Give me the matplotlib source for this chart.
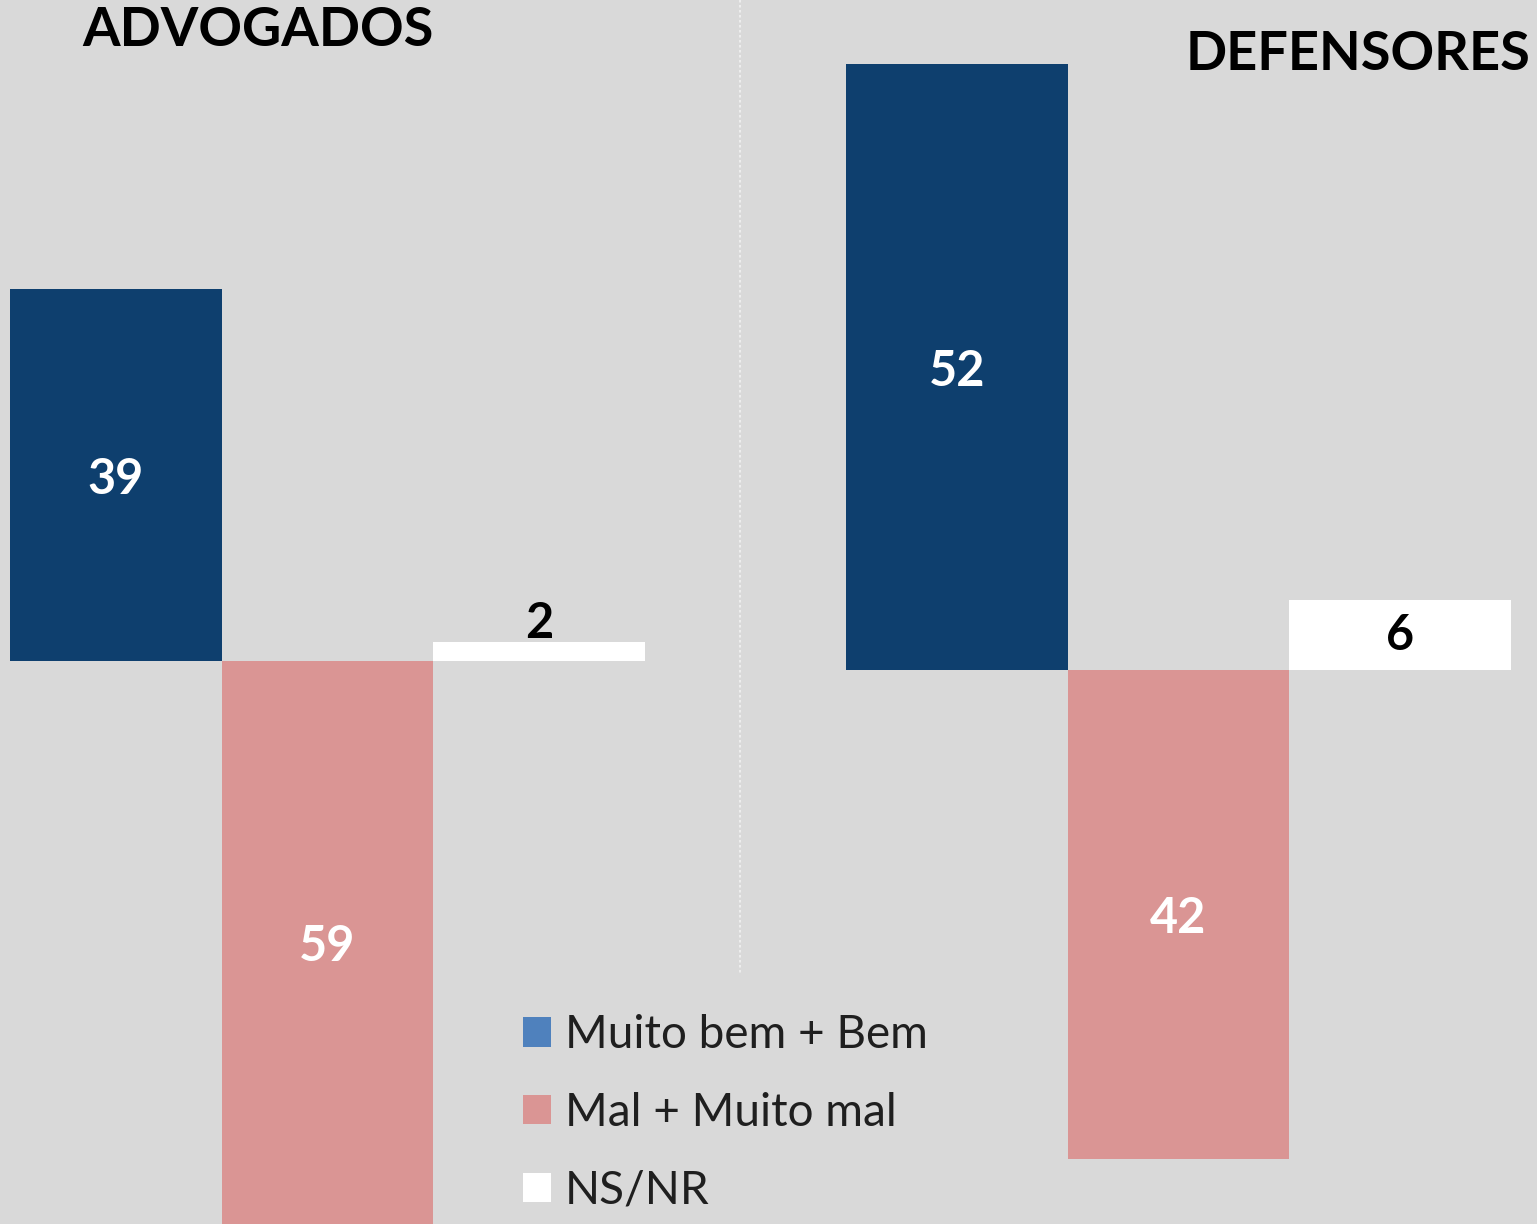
import matplotlib.pyplot as plt
from matplotlib.patches import Patch

# data
series = ['Muito bem + Bem', 'Mal + Muito mal', 'NS/NR']
advogados = [39, -59, 2]
defensores = [52, -42, 6]
bar_colors = ['#0E3F6E', '#DA9594', '#FFFFFF']
legend_colors = ['#4F81BD', '#DA9594', '#FFFFFF']
label_colors = ['white', 'white', 'black']

bg = '#D9D9D9'
W, H = 1537, 1224
plt.rcParams['font.family'] = ['Lato', 'DejaVu Sans']

fig = plt.figure(figsize=(W / 100, H / 100), dpi=100, facecolor=bg)


def panel(x0, x1, ylim, values, small_inside):
    ax = fig.add_axes([x0 / W, 0, (x1 - x0) / W, 1])
    ax.set_facecolor('none')
    ax.bar(range(3), values, width=1.0, color=bar_colors)
    ax.set_xlim(-0.5, 2.5)
    ax.set_ylim(*ylim)
    ax.axis('off')
    for i, v in enumerate(values):
        if i < 2:
            ax.text(i, v / 2, str(abs(v)), ha='center', va='center_baseline',
                    color=label_colors[i], fontsize=35, fontweight='bold')
        elif small_inside:
            ax.text(i, v / 2 + 0.3, str(v), ha='center', va='center_baseline',
                    color='black', fontsize=35, fontweight='bold')
        else:
            ax.text(i, v - 0.4, str(v), ha='center', va='bottom',
                    color='black', fontsize=35, fontweight='bold')
    return ax


panel(10, 645, (-59.0, 69.3), advogados, False)
panel(846, 1511, (-47.55, 57.5), defensores, True)

# dotted separator
fig.add_artist(plt.Line2D([740 / W, 740 / W], [1, 1 - 975 / H],
                          color='#F2F2F2', lw=1.2, ls=(0, (1.5, 1.5))))

fig.text(82 / W, 1 - 30 / H, 'ADVOGADOS', ha='left', va='center',
         fontsize=39, fontweight='bold', color='black')
fig.text(1530 / W, 1 - 55 / H, 'DEFENSORES', ha='right', va='center',
         fontsize=39, fontweight='bold', color='black')

handles = [Patch(facecolor=c, edgecolor='none') for c in legend_colors]
fig.legend(handles, series, loc='upper left',
           bbox_to_anchor=(523 / W, 1 - 1014 / H), frameon=False,
           fontsize=33, labelcolor='#1F1F1F', borderpad=0, borderaxespad=0,
           handlelength=0.61, handleheight=0.61, handletextpad=0.3,
           labelspacing=0.78)

fig.savefig('out.png', dpi=100, facecolor=bg)
